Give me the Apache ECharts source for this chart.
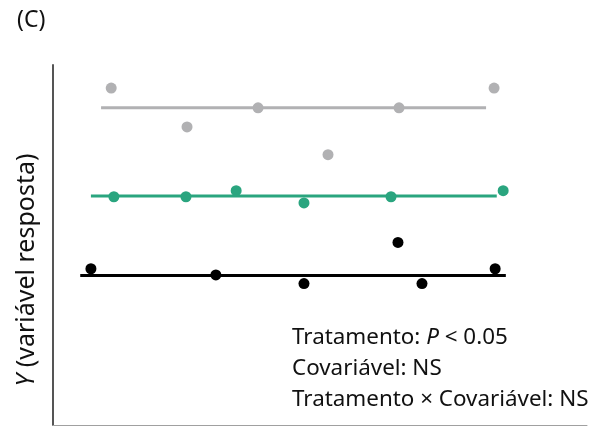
<!DOCTYPE html>
<html>
<head>
<meta charset="utf-8">
<script src="https://cdn.jsdelivr.net/npm/echarts@6/dist/echarts.min.js"></script>
<style>
  html, body { margin: 0; padding: 0; background: #fff; }
  #chart { width: 604px; height: 427px; }
</style>
</head>
<body>
<div id="chart"></div>
<script>
// covariável (x) e resposta (y) por tratamento
var grayX = [1.09, 2.51, 3.84, 5.15, 6.48, 8.26];
var grayY = [9.36, 8.28, 8.81, 7.51, 8.81, 9.36];
var greenX = [1.14, 2.49, 3.43, 4.70, 6.33, 8.43];
var greenY = [6.34, 6.34, 6.51, 6.17, 6.34, 6.51];
var blackX = [0.71, 3.05, 4.70, 6.46, 6.91, 8.28];
var blackY = [4.34, 4.17, 3.93, 5.07, 3.93, 4.34];

// retas ajustadas: [x inicial, x final, y]
var grayFit = [0.90, 8.11, 8.81];
var greenFit = [0.71, 8.31, 6.36];
var blackFit = [0.51, 8.48, 4.15];

var FONT = "Noto Sans";

function pts(xs, ys) {
  return xs.map(function (x, i) { return [x, ys[i]]; });
}
function fitLine(f) {
  return [[f[0], f[2]], [f[1], f[2]]];
}

var chart = echarts.init(document.getElementById("chart"), null, { renderer: "canvas" });

var option = {
  backgroundColor: "#ffffff",
  animation: false,
  grid: { left: 53, right: 17, top: 65, bottom: 2 },
  xAxis: {
    type: "value",
    min: 0,
    max: 10,
    axisLine: { show: true, lineStyle: { color: "#a0a0a0", width: 1 } },
    axisTick: { show: false },
    axisLabel: { show: false },
    splitLine: { show: false },
  },
  yAxis: {
    type: "value",
    min: 0,
    max: 10,
    axisLine: { show: true, lineStyle: { color: "#555", width: 2 } },
    axisTick: { show: false },
    axisLabel: { show: false },
    splitLine: { show: false },
  },
  series: [
    {
      type: "line", data: fitLine(grayFit), symbol: "none",
      lineStyle: { color: "#b1b1b3", width: 3 }, z: 1,
    },
    {
      type: "line", data: fitLine(greenFit), symbol: "none",
      lineStyle: { color: "#2aa57f", width: 3 }, z: 1,
    },
    {
      type: "line", data: fitLine(blackFit), symbol: "none",
      lineStyle: { color: "#000000", width: 3 }, z: 1,
    },
    {
      type: "scatter", data: pts(grayX, grayY), symbolSize: 11,
      itemStyle: { color: "#b1b1b3", opacity: 1 }, z: 2,
    },
    {
      type: "scatter", data: pts(greenX, greenY), symbolSize: 11,
      itemStyle: { color: "#2aa57f", opacity: 1 }, z: 2,
    },
    {
      type: "scatter", data: pts(blackX, blackY), symbolSize: 11,
      itemStyle: { color: "#000000", opacity: 1 }, z: 2,
    },
  ],
  graphic: [
    {
      type: "text", left: 17, top: 9,
      style: { text: "(C)", fontFamily: FONT, fontSize: 23, fill: "#111" },
    },
    // título do eixo Y
    {
      type: "text", x: 27, y: 270, rotation: Math.PI / 2,
      style: {
        text: "{i|Y}{n| (variável resposta)}",
        align: "center",
        verticalAlign: "middle",
        rich: {
          i: { fontFamily: FONT, fontSize: 25, fontStyle: "italic", fill: "#111" },
          n: { fontFamily: FONT, fontSize: 25, fill: "#111" },
        },
      },
    },
    {
      type: "text", left: 292, top: 327,
      style: {
        text: "{n|Tratamento: }{i|P}{n| < 0.05}\n{n|Covariável: NS}\n{n|Tratamento × Covariável: NS}",
        rich: {
          n: { fontFamily: FONT, fontSize: 22.4, lineHeight: 31, fill: "#111" },
          i: { fontFamily: FONT, fontSize: 22.4, lineHeight: 31, fontStyle: "italic", fill: "#111" },
        },
      },
    },
  ],
};

chart.setOption(option);
</script>
</body>
</html>
